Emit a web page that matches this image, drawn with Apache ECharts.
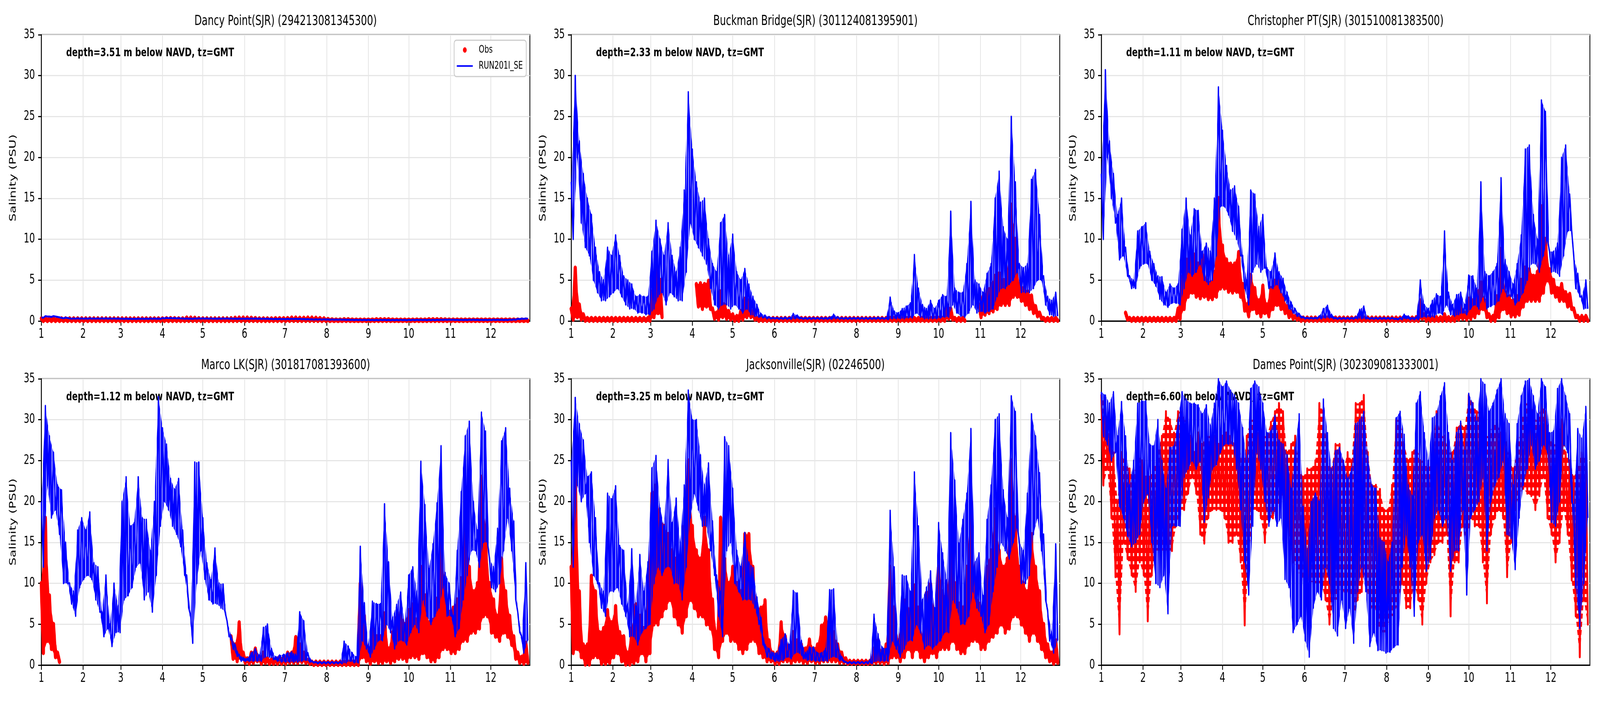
<!DOCTYPE html>
<html>
<head>
<meta charset="utf-8">
<title>SJR salinity: Obs vs RUN201l_SE</title>
<script src="https://cdn.jsdelivr.net/npm/echarts@6/dist/echarts.min.js"></script>
<style>
  html, body { margin: 0; padding: 0; background: #ffffff; overflow: hidden; }
  #wrap { position: relative; overflow: hidden; background: #ffffff; }
  #chart { position: absolute; left: 0; top: 0; width: 6000px; height: 1800px; transform-origin: 0 0; }
</style>
</head>
<body>
<div id="wrap"><div id="chart"></div></div>
<script>
// ── Sample days (day of year, Jan 1 = 0); model/obs read as high/low per 3-day window ──
var DAYS = [0,3,6,9,12,15,18,21,24,27,30,33,36,39,42,45,48,51,54,57,
  60,63,66,69,72,75,78,81,84,87,90,93,96,99,102,105,108,111,114,117,
  120,123,126,129,132,135,138,141,144,147,150,153,156,159,162,165,168,171,174,177,
  180,183,186,189,192,195,198,201,204,207,210,213,216,219,222,225,228,231,234,237,
  240,243,246,249,252,255,258,261,264,267,270,273,276,279,282,285,288,291,294,297,
  300,303,306,309,312,315,318,321,324,327,330,333,336,339,342,345,348,351,354,357,
  360];

var MONTH_STARTS = [0,31,59,90,120,151,181,212,243,273,304,334];
var MONTH_LABELS = ['1','2','3','4','5','6','7','8','9','10','11','12'];

var TITLES = [
  'Dancy Point(SJR) (294213081345300)',
  'Buckman Bridge(SJR) (301124081395901)',
  'Christopher PT(SJR) (301510081383500)',
  'Marco LK(SJR) (301817081393600)',
  'Jacksonville(SJR) (02246500)',
  'Dames Point(SJR) (302309081333001)'
];
var NOTES = [
  'depth=3.51 m below NAVD, tz=GMT',
  'depth=2.33 m below NAVD, tz=GMT',
  'depth=1.11 m below NAVD, tz=GMT',
  'depth=1.12 m below NAVD, tz=GMT',
  'depth=3.25 m below NAVD, tz=GMT',
  'depth=6.60 m below NAVD, tz=GMT'
];

// ── Dancy Point ──
var DANCY_MOD_HI = [0.45,0.6,0.55,0.6,0.5,0.38,0.42,0.32,0.32,0.33,
  0.32,0.32,0.33,0.32,0.32,0.33,0.33,0.32,0.32,0.31,
  0.3,0.3,0.29,0.29,0.3,0.3,0.3,0.31,0.31,0.3,
  0.36,0.38,0.37,0.36,0.35,0.32,0.31,0.3,0.32,0.33,
  0.33,0.32,0.32,0.31,0.31,0.32,0.32,0.31,0.3,0.3,
  0.3,0.3,0.31,0.31,0.3,0.3,0.29,0.27,0.27,0.27,
  0.26,0.27,0.28,0.28,0.27,0.25,0.24,0.22,0.22,0.21,
  0.22,0.2,0.2,0.19,0.19,0.18,0.17,0.16,0.16,0.15,
  0.15,0.15,0.14,0.14,0.15,0.15,0.14,0.14,0.14,0.15,
  0.14,0.15,0.15,0.16,0.16,0.15,0.15,0.15,0.16,0.17,
  0.18,0.18,0.17,0.16,0.16,0.16,0.17,0.17,0.16,0.16,
  0.16,0.16,0.17,0.17,0.16,0.16,0.18,0.2,0.27,0.3,
  0.31];
var DANCY_MOD_LO = [0.4,0.55,0.5,0.55,0.45,0.33,0.37,0.28,0.28,0.29,
  0.28,0.28,0.29,0.28,0.28,0.29,0.29,0.28,0.28,0.27,
  0.26,0.26,0.25,0.25,0.26,0.26,0.26,0.27,0.27,0.26,
  0.32,0.34,0.33,0.32,0.31,0.28,0.27,0.26,0.28,0.29,
  0.29,0.28,0.28,0.27,0.27,0.28,0.28,0.27,0.26,0.26,
  0.26,0.26,0.27,0.27,0.26,0.26,0.25,0.23,0.23,0.23,
  0.22,0.23,0.24,0.24,0.23,0.21,0.2,0.18,0.18,0.17,
  0.18,0.16,0.16,0.15,0.15,0.14,0.13,0.12,0.12,0.11,
  0.11,0.11,0.1,0.1,0.11,0.11,0.1,0.1,0.1,0.11,
  0.1,0.11,0.11,0.12,0.12,0.11,0.11,0.11,0.12,0.13,
  0.14,0.14,0.13,0.12,0.12,0.12,0.13,0.13,0.12,0.12,
  0.12,0.12,0.13,0.13,0.12,0.12,0.14,0.16,0.23,0.26,
  0.27];
var DANCY_OBS_HI = [0.3,0.3,0.3,0.3,0.3,0.3,0.3,0.3,0.3,0.3,
  0.3,0.3,0.3,0.3,0.3,0.3,0.3,0.3,0.3,0.3,
  0.3,0.3,0.3,0.3,0.3,0.3,0.3,0.3,0.3,0.3,
  0.3,0.32,0.34,0.32,0.3,0.3,0.4,0.4,0.38,0.32,
  0.3,0.3,0.3,0.3,0.3,0.3,0.3,0.32,0.38,0.4,
  0.4,0.4,0.38,0.35,0.3,0.3,0.3,0.3,0.32,0.32,
  0.32,0.35,0.4,0.4,0.38,0.38,0.4,0.4,0.38,0.34,
  0.3,0.22,0.18,0.16,0.16,0.2,0.2,0.16,0.15,0.15,
  0.15,0.15,0.16,0.2,0.2,0.2,0.2,0.16,0.15,0.15,
  0.15,0.15,0.15,0.16,0.16,0.16,0.2,0.2,0.2,0.2,
  0.18,0.16,0.16,0.16,0.16,0.16,0.16,0.16,0.16,0.16,
  0.16,0.16,0.16,0.16,0.16,0.16,0.16,0.16,0.16,0.16,
  0.16];
var DANCY_OBS_LO = [0.03,0.03,0.03,0.03,0.03,0.03,0.03,0.03,0.03,0.03,
  0.03,0.03,0.03,0.03,0.03,0.03,0.03,0.03,0.03,0.03,
  0.03,0.03,0.03,0.03,0.03,0.03,0.03,0.03,0.03,0.03,
  0.03,0.03,0.03,0.03,0.03,0.03,0.03,0.03,0.03,0.03,
  0.03,0.03,0.03,0.03,0.03,0.03,0.03,0.03,0.03,0.03,
  0.03,0.03,0.03,0.03,0.03,0.03,0.03,0.03,0.03,0.03,
  0.03,0.03,0.03,0.03,0.03,0.03,0.03,0.03,0.03,0.03,
  0.03,0.03,0.03,0.03,0.03,0.03,0.03,0.03,0.03,0.03,
  0.03,0.03,0.03,0.03,0.03,0.03,0.03,0.03,0.03,0.03,
  0.03,0.03,0.03,0.03,0.03,0.03,0.03,0.03,0.03,0.03,
  0.03,0.03,0.03,0.03,0.03,0.03,0.03,0.03,0.03,0.03,
  0.03,0.03,0.03,0.03,0.03,0.03,0.03,0.03,0.03,0.03,
  0.03];

// ── Buckman Bridge ──
var BUCK_MOD_HI = [17,30,22,18,15,13,9,6,5,9,
  8,10.5,8,5.5,5,4.5,3,3.2,3,3,
  8.5,12.3,10,8,12,8,6,9,16,28,
  21,17,14.5,15,10,7,6,12,13,8,
  10.6,6,5,6.4,4.5,3,2,0.9,0.7,0.5,
  0.4,0.4,0.4,0.45,0.4,0.9,0.7,0.4,0.4,0.4,
  0.4,0.4,0.4,0.4,0.45,0.8,0.5,0.4,0.4,0.4,
  0.4,0.4,0.4,0.4,0.4,0.4,0.45,0.4,0.4,2.9,
  1.2,1,1.5,1.8,2.2,8.1,4,2,1.5,2.5,
  1.5,2.5,3.2,3,13.4,4,3.5,3.5,7,14.6,
  5,4.5,3.5,5.8,7,15,18.3,11.5,10,25,
  17,7,6.5,7,17.3,18.5,13,5.5,3,2.5,
  3.5];
var BUCK_MOD_LO = [10,20,12,9,8,5,3.5,2.5,2.5,3,
  3.5,4,3,2,1.5,1.5,1,1,0.8,0.8,
  1.5,3,3.5,2,3.5,3,2.5,2.5,6,12,
  10,9,8,7,4,2,1.5,2,2,1.5,
  2,1.5,1,1.5,0.8,0.6,0.5,0.4,0.3,0.3,
  0.3,0.25,0.25,0.25,0.25,0.3,0.3,0.25,0.25,0.25,
  0.25,0.25,0.25,0.25,0.25,0.3,0.25,0.25,0.25,0.25,
  0.25,0.25,0.25,0.25,0.25,0.25,0.25,0.25,0.2,0.3,
  0.3,0.3,0.3,0.4,0.4,1,0.5,0.3,0.3,0.3,
  0.3,0.4,0.5,0.5,2,1,0.6,0.5,1,2,
  1,1.2,1,1.2,1.5,3,4,4,4.5,5,
  6,3.5,3.5,3.5,4,5,5,2,0.8,0.6,
  0.6];
var BUCK_OBS_HI = [1.5,6.5,2,0.8,0.35,0.35,0.35,0.35,0.35,0.35,
  0.35,0.35,0.35,0.35,0.35,0.35,0.35,0.35,0.35,0.35,
  3.6,9.2,5,null,null,null,null,null,null,null,
  null,4.5,4.6,4.5,4.9,1.5,1,3.6,2,1.2,
  0.8,0.6,1.2,2.7,2.5,1.2,0.35,0.35,0.35,0.35,
  0.35,0.35,0.35,0.35,0.35,0.35,0.35,0.35,0.35,0.35,
  0.35,0.35,0.35,0.35,0.35,0.35,0.35,0.35,0.35,0.35,
  0.35,0.35,0.35,0.35,0.35,0.35,0.35,0.35,0.35,0.35,
  0.35,0.35,0.35,0.35,0.35,0.35,0.35,0.35,0.35,0.35,
  0.35,0.35,0.35,2,1.5,0.35,0.35,0.35,null,null,
  null,2,3,3.8,4.5,5.5,5.8,5,6,14.2,
  10,4.5,4,3.6,3.1,1.8,1,0.35,0.35,0.35,
  0.35];
var BUCK_OBS_LO = [0.2,0.5,0.2,0.05,0.05,0.05,0.05,0.05,0.05,0.05,
  0.05,0.05,0.05,0.05,0.05,0.05,0.05,0.05,0.05,0.05,
  0.5,1,0.5,null,null,null,null,null,null,null,
  null,1.8,1.5,1.8,1.5,0.3,0.2,0.5,0.3,0.2,
  0.05,0.05,0.2,0.5,0.5,0.2,0.05,0.05,0.05,0.05,
  0.05,0.05,0.05,0.05,0.05,0.05,0.05,0.05,0.05,0.05,
  0.05,0.05,0.05,0.05,0.05,0.05,0.05,0.05,0.05,0.05,
  0.05,0.05,0.05,0.05,0.05,0.05,0.05,0.05,0.05,0.05,
  0.05,0.05,0.05,0.05,0.05,0.05,0.05,0.05,0.05,0.05,
  0.05,0.05,0.05,0.3,0.2,0.05,0.05,0.05,null,null,
  null,0.5,0.8,1,1.2,1.5,2,2,2,3,
  3,2.5,2,1.5,1,0.6,0.3,0.05,0.05,0.05,
  0.05];

// ── Christopher PT ──
var CHRIS_MOD_HI = [18,30.7,22,18,13,15,9,5.5,5,11,
  11.5,12,8.5,7,5.5,5.4,3.5,4.5,4,4.5,
  11.2,15,10.5,13.7,13.5,8.5,9.5,8.5,15,28.6,
  23.3,19,16,16.5,14,8,5,16,15.5,11.5,
  13,6.5,6,8.3,6,5.2,3.5,2.3,1.5,0.9,
  0.5,0.4,0.4,0.4,0.6,1.5,1.9,0.8,0.4,0.4,
  0.4,0.4,0.4,0.5,1.4,1.8,0.4,0.4,0.4,0.4,
  0.4,0.4,0.4,0.3,0.4,0.8,0.6,0.4,0.5,5,
  2,1.5,2.5,3.3,3,11,3.5,2,3.2,3.5,
  2,5.6,5.5,4,17,6,5.5,6,7,17.5,
  7.5,6,4.5,7,10.5,21,21.5,13,10,27,
  25.6,8.5,8.5,9.5,20,21.5,15.5,8,5.8,3,
  5];
var CHRIS_MOD_LO = [10,20,15,12,7.5,8,5.5,4,4,6.5,
  7,7,5,4.3,2.7,2,1.7,2.2,2.2,2,
  4,6,5.5,6,7,5,4.5,5,8,14,
  14,13,11,10,8,4,2,6,7,6,
  6.5,4,4,4.5,3.5,2.5,1.5,1,0.6,0.4,
  0.3,0.3,0.3,0.3,0.3,0.4,0.4,0.3,0.25,0.25,
  0.25,0.25,0.25,0.3,0.3,0.3,0.25,0.25,0.25,0.25,
  0.25,0.25,0.25,0.2,0.2,0.3,0.2,0.2,0.2,0.5,
  0.5,0.5,0.5,1,0.8,2,0.8,0.6,0.8,1,
  0.8,1.5,2,1.5,3,1.5,1.8,2,2.5,4,
  3,3,2,2.5,3.5,5,7,7,6,8,
  10,6,6,5.5,8,11,11,4,3,1.5,
  1.5];
var CHRIS_OBS_HI = [null,null,null,null,null,null,1,0.35,0.35,0.35,
  0.35,0.35,0.35,0.35,0.35,0.35,0.35,0.35,0.35,1.5,
  5.4,7.5,8,8.1,7,8.1,5,4.7,6,15,
  9.2,7.5,7,7,8.4,4.5,2,5.6,4,2.5,
  4.3,2,4,4.9,5,3,1.8,1.2,0.6,0.4,
  0.4,0.4,0.4,0.4,0.4,0.4,0.4,0.4,0.4,0.4,
  0.4,0.4,0.4,0.4,0.4,0.4,0.4,0.4,0.4,0.4,
  0.4,0.4,0.4,0.4,0.4,0.4,0.4,0.4,0.45,2.5,
  0.8,0.45,0.45,0.45,0.45,0.8,0.45,0.45,1.5,2.2,
  1,2.7,2.5,3.5,4.7,2.5,0.8,0.6,3,8.8,
  3.5,3,2.5,3,5,6.5,6.3,5.5,6,14,
  10,6.3,5,4,4.5,3.5,3.3,1.5,0.6,0.6,
  0.6];
var CHRIS_OBS_LO = [null,null,null,null,null,null,0.2,0.05,0.05,0.05,
  0.05,0.05,0.05,0.05,0.05,0.05,0.05,0.05,0.05,0.3,
  1.5,3,3.5,3,2.8,3,2.7,2.7,3,4,
  4,3.6,3.5,3.6,3,1.3,0.6,1.5,1,0.6,
  1,0.6,1.5,2,1.5,1,0.5,0.3,0.2,0.05,
  0.05,0.05,0.05,0.05,0.05,0.05,0.05,0.05,0.05,0.05,
  0.05,0.05,0.05,0.05,0.05,0.05,0.05,0.05,0.05,0.05,
  0.05,0.05,0.05,0.05,0.05,0.05,0.05,0.05,0.05,0.3,
  0.05,0.05,0.05,0.05,0.05,0.05,0.05,0.05,0.2,0.3,
  0.2,0.3,0.5,1,1.5,0.5,0.05,0.05,0.5,1.5,
  1,0.6,0.6,0.8,1.8,2.5,2.5,2.5,2.5,3.5,
  5,3.5,3,2.5,2.5,1.8,1.5,0.5,0.05,0.05,
  0.05];

// ── Marco LK ──
var MARCO_MOD_HI = [20,31.7,28,26,22,21.4,15,10,9,16.5,
  18,16.5,18.7,12.5,12,6.5,11,5,10,7.2,
  20,23,17,17.4,23,18,17.8,14,20,32.8,
  29,27,22.8,21.5,22.8,16.5,11,6,24.8,24.8,
  18,12.5,10.4,14.3,10,9.9,5.4,3.6,2.5,1.3,
  0.9,0.8,1.5,2,1.2,4.6,5,2,1,1.2,
  1.3,1.5,1.6,1.3,6.5,5.4,1.5,0.5,0.4,0.4,
  0.4,0.4,0.4,0.4,0.4,2.9,2.3,1.5,1,14.5,
  7.6,2.5,7.8,7.5,7.5,19.7,12.6,5.8,7.4,8.9,
  5,11,12,9,24.9,19.6,11.8,14.8,19.8,26.8,
  11.3,10,6,14,21.2,28,29.8,20,16.5,30.9,
  28.6,13,12,16.7,27.4,29,21.6,17.6,6.5,3.5,
  12.5];
var MARCO_MOD_LO = [12,22,18,19,16,10,10,7.5,6,9.5,
  10.5,11,10.5,8,6.5,3.5,4.5,2.3,4,4,
  8,8.5,9.5,12,12.5,8,9,6.5,11,17,
  20,19,17,16,14.5,11,7,2.7,10,14,
  10.5,8,7.5,7.5,7,6.5,3.5,2,1.1,0.5,
  0.5,0.5,0.5,0.5,0.5,1,1,0.7,0.5,0.4,
  0.4,0.4,0.4,0.4,0.5,0.6,0.4,0.3,0.2,0.2,
  0.2,0.2,0.2,0.2,0.2,0.3,0.5,0.3,0.3,3,
  2,1,2,3,3,5,4,2,3,3,
  2.5,4,5,4,8,6,5,6,7,9.5,
  6,6,3.5,4.5,8,11,14,14,12,15,
  15,9.5,9,10,14,18,14,8,4,1.5,
  3];
var MARCO_OBS_HI = [10,18,8.5,5,1.5,null,null,null,null,null,
  null,null,null,null,null,null,null,null,null,null,
  null,null,null,null,null,null,null,null,null,null,
  null,null,null,null,null,null,null,null,null,null,
  null,null,null,null,null,null,null,3.5,2.5,5.2,
  1.5,0.8,1.5,2,1,1.5,0.8,0.7,0.8,1,
  1,1.5,1.5,3.4,2.5,1.5,0.6,0.4,0.4,0.4,
  0.4,0.4,0.4,0.4,0.4,0.4,0.4,0.4,0.5,10,
  6,1.5,4.5,3.5,3.5,6.3,2,4,5.8,6.5,
  5,6.7,7.4,5.5,12,8.5,5.2,5.5,8.1,17,
  9,6.5,7,8,10.6,17,12,9,10,23,
  17,10,8,6,13,9,6,3.5,1.5,1,
  2.7];
var MARCO_OBS_LO = [1.5,3,2,1,0.4,null,null,null,null,null,
  null,null,null,null,null,null,null,null,null,null,
  null,null,null,null,null,null,null,null,null,null,
  null,null,null,null,null,null,null,null,null,null,
  null,null,null,null,null,null,null,0.8,0.5,0.8,
  0.3,0.2,0.3,0.5,0.2,0.3,0.2,0.2,0.2,0.2,
  0.2,0.3,0.3,0.3,0.4,0.3,0.2,0.05,0.05,0.05,
  0.05,0.05,0.05,0.05,0.05,0.05,0.05,0.05,0.05,1,
  0.5,0.2,0.5,0.3,0.3,0.5,0.3,0.5,0.8,0.8,
  0.5,1,1,0.8,1.5,1,0.5,0.5,1,2,
  2,1.5,1.5,2,3,3,4,4,4.5,6,
  6,4,3.5,3,4,3.5,2.5,0.8,0.3,0.2,
  0.3];

// ── Jacksonville ──
var JAX_MOD_HI = [25,32.7,29.5,27.5,23,23.6,18,10,9,21,
  20.3,21.9,14.6,14,7.5,14.2,7.2,13.5,9,12.6,
  24.1,25.6,19.2,17,25.1,17.4,20.4,15,22,33.6,
  30,30,25.7,22,24.7,17.6,11,9,27.9,26.8,
  21.6,14,12,16.2,12.6,11.9,8.3,5.8,2.5,2,
  1.5,1.5,3.1,3.8,2.5,9.1,8.8,3,1.5,2.2,
  2.2,1.5,1.5,2,9.2,9.3,2.5,1,0.4,0.4,
  0.4,0.4,0.4,0.4,0.6,6.2,3.8,2.2,2,18.9,
  12,3,11,10.9,9,23.6,17,8,9.5,11.5,
  7,17.4,13.7,10.4,28.4,22.6,14.9,17.8,21,28.9,
  12.6,13.7,8.5,17.8,22,30,30.7,21.4,18,32.9,
  31,15,14,21,30.7,28,23.5,16,6.7,4,
  14.8];
var JAX_MOD_LO = [12,22,20,21,15,11,10,7,6,9,
  9,9.5,7.5,6,3.5,3.5,2.5,4,4.5,5,
  10,12,11,12,12,10,10,8,12,18,
  21,19,17,17,14,11,6,3.5,14,15,
  10,9,8,8,8,7,5,2.5,1,0.8,
  0.5,0.5,0.6,1,0.8,1.5,1.5,0.8,0.6,0.6,
  0.5,0.5,0.5,0.5,1,1,0.6,0.4,0.2,0.2,
  0.2,0.2,0.2,0.2,0.2,0.5,0.5,0.5,0.5,3,
  2,1,2,3,3,5,4,2,2.5,2,
  2.5,3,4,4,8,7,5,5,6,9,
  7,6,4,5,9,12,15,14,13,15,
  17,10,10,11,16,18,14,8,3,1.5,
  3];
var JAX_OBS_HI = [12,25,9,2.5,2.5,10.9,9,4,4.5,6.7,
  5.2,7.2,4,3.5,1.5,4.5,7.4,6,4.5,9.2,
  21,22,18,17,16,14,13,12,17,25,
  17,14,13,18,14,8,4,18,13,10,
  12,10,9,16,16,12,7,7,7.9,3,
  1.5,1.5,5.2,3.5,2,4,3,2.5,2,3.1,
  2,2.5,4.8,5.8,5,4,2.5,1.5,0.8,0.5,
  0.5,0.5,0.5,0.5,0.5,2,3,1.5,2.5,12,
  7,3,6,8,6.5,9.7,7,3.5,8.8,9.9,
  6,12,9,8,15,10,7.5,7,12,20,
  10,7.5,6.5,12,14,19,14,12,13,25,
  18,12,10,9,16,12,9,5,2.5,1.5,
  3];
var JAX_OBS_LO = [1.5,2,1,0.1,0.1,1,1,0.2,0.2,0.3,
  1,1.5,0.5,0.1,0.1,0.3,0.5,1.5,0.5,1.5,
  5,5,6,7,8,6,5,4,6,8,
  7,6,6,5,4.5,2,1,3,4,3,
  3,2,1.5,2,3,3,1.5,1,0.5,0.5,
  0.2,0.2,0.5,0.5,0.3,0.5,0.5,0.3,0.3,0.5,
  0.3,0.3,0.5,0.5,0.5,0.5,0.3,0.3,0.2,0.2,
  0.2,0.2,0.2,0.2,0.2,0.3,0.3,0.2,0.3,1,
  1,0.5,1,2,1,2,1,0.5,1,1.5,
  1,2,2,2,3,2,1.5,1.5,2.5,3,
  3,2,2,3,3.5,4,5,4,4.5,6,
  6,5,4,3,4,3,2,1,0.5,0.2,
  0.3];

// ── Dames Point ──
var DAMES_MOD_HI = [33.4,33,32,33.4,28,32.2,28,22,25,32,
  32.3,32.3,27,26.8,30,25,21.6,26.6,26.8,30,
  33.4,32.5,32,32,31.8,30.7,31.8,29.3,32,35,
  34,34.7,33.6,33,32,29,25,33.8,34.7,34,
  32,28.4,28.6,30.5,27.5,27,25.7,21.6,26.6,30.7,
  19.4,14,20,21,20,32.5,28.4,23.9,26.2,26.6,
  25,22.8,24,29.5,30,31,25.5,22,21.6,15.5,
  15,12.6,15,30.2,31,28.2,22,20.7,32,33.4,
  28.4,25,30.2,30.7,32.9,34.5,28.4,25,28.4,29.8,
  26.2,33.2,32,29.8,35,34.3,31,32,33.6,35,
  30.7,29.5,22,29.5,32.9,34.7,35,32.9,30.7,35,
  34,28.4,28.6,33.8,35,32.9,30.7,19.4,28.9,27.7,
  31.6];
var DAMES_MOD_LO = [28,27,25,26,19.4,18,15.8,14.5,15,16,
  20,21,15,10,9.5,11,6.3,17,17,17,
  23,24,25,24,25,17.5,20.5,24,24.5,26,
  27,27,27,24,19,12.6,8.6,17,26,24,
  20,17,19,17,18,10.5,9.5,4,5,6,
  3,1,7,9,8,12,10,4.5,3.6,8,
  4.5,7,2.7,9,12,9,2.3,4,1.8,1.8,
  1.5,1.6,2.2,2.5,12,16,12,6,15,16,
  11.5,13,18,19,17,18,11.5,14,14,19,
  8.6,18,19,20,23,14,20,22,23,25,
  16,15.5,11.7,18,22,24,27,24,25,27,
  26,17.5,17,20,27,26,20,9.5,4.5,10,
  18];
var DAMES_OBS_HI = [33,32,28,26,20,26,24.5,24,23,26,
  25,23,23,24,26,28,31,30,28.4,31,
  31,29.5,28,26,28.4,27,28,28,28,27,
  28,28.4,28,27,29.7,23,28,30,30,28.4,
  28,28,29.7,31,32,31,26,27,28,24,
  23,24,24,25,32,31,25,24,27,27,
  24,26,25,32,32,33,26,22,22,21.5,
  19,19,22,30,30,27,25,26,27,25,
  25,24,25,31,28,28,26,26,29,29.5,
  29,33,32,31,31,28,28,29.5,29.5,28.4,
  28.4,25,24,26,29.5,32,32,31,29.5,32,
  31,28,27,27,30,26,25,23,24,26,
  25];
var DAMES_OBS_LO = [22,24,18,10.8,3.8,15,13,11,9,12.6,
  11,5.4,11,14,14,14,14,14,17,19,
  19,21,23,21,16,14.9,18,19,19,19,
  18,15,15,16,12.6,4.9,12.6,19,19,18,
  15,18,18,19,20.7,20,16,12.6,12,10.4,
  10.4,10.4,10,10,10,8,5,8,8,10,
  8,10,6,8,9,12,6,8,5,4,
  4,6,6,8,10,7,7,10,8,5,
  10,12.6,13.5,15,15,16,6,12.6,12.6,17,
  15,18,17,17,12.6,7.6,16,18,19,18,
  10.8,15,19,21,21.6,21,20.7,19,20.7,23,
  18,16,12.6,15,19,16,10.4,6,1,8,
  5];

// ── Layout (pixels of the 6000×1800 figure) ─────────────────────────────────
var COL_X = [155, 2142, 4130];
var ROW_Y = [89, 970];
var PW = 1832, PH = 733;
var FONT = 'DejaVu Sans';
var HALF = 1.5;   // low reading sits half a window after the high one

var PANELS = [
  { modHi: DANCY_MOD_HI, modLo: DANCY_MOD_LO, obsHi: DANCY_OBS_HI, obsLo: DANCY_OBS_LO, obsRows: false },
  { modHi: BUCK_MOD_HI,  modLo: BUCK_MOD_LO,  obsHi: BUCK_OBS_HI,  obsLo: BUCK_OBS_LO,  obsRows: false },
  { modHi: CHRIS_MOD_HI, modLo: CHRIS_MOD_LO, obsHi: CHRIS_OBS_HI, obsLo: CHRIS_OBS_LO, obsRows: false },
  { modHi: MARCO_MOD_HI, modLo: MARCO_MOD_LO, obsHi: MARCO_OBS_HI, obsLo: MARCO_OBS_LO, obsRows: false },
  { modHi: JAX_MOD_HI,   modLo: JAX_MOD_LO,   obsHi: JAX_OBS_HI,   obsLo: JAX_OBS_LO,   obsRows: false },
  { modHi: DAMES_MOD_HI, modLo: DAMES_MOD_LO, obsHi: DAMES_OBS_HI, obsLo: DAMES_OBS_LO, obsRows: true }
];

// ── Fill patterns ────────────────────────────────────────────────────────────
// narrow vertical blue strokes: the look of the dense tidal model band
function modelPattern() {
  var c = document.createElement('canvas');
  c.width = 7; c.height = 4;
  var g = c.getContext('2d');
  g.fillStyle = '#0000ff';
  g.fillRect(0, 0, 5, 4);
  return { image: c, repeat: 'repeat' };
}
// rows of red dots, one row per whole PSU (about 21 px apart on the bottom row)
function rowPattern() {
  var c = document.createElement('canvas');
  c.width = 4; c.height = 21;
  var g = c.getContext('2d');
  g.fillStyle = '#ff0000';
  g.fillRect(0, 17, 4, 4);
  g.fillRect(0, 0, 4, 9);
  return { image: c, repeat: 'repeat' };
}
var MODEL_FILL = modelPattern();
var ROW_FILL = rowPattern();

function val(v) { return v == null ? '-' : v; }

function zigzag(hi, lo) {
  var out = [];
  for (var i = 0; i < DAYS.length; i++) {
    out.push([DAYS[i], val(hi[i])]);
    out.push([DAYS[i] + HALF, val(lo[i])]);
  }
  return out;
}

// one item per pair of neighbouring windows: [d0, hi0, lo0, d1, hi1, lo1]
function bandItems(hi, lo) {
  var out = [];
  for (var i = 0; i < DAYS.length - 1; i++) {
    out.push([DAYS[i], val(hi[i]), val(lo[i]), DAYS[i + 1], val(hi[i + 1]), val(lo[i + 1])]);
  }
  return out;
}

function bandRenderer(fill) {
  return function(params, api) {
    var v = [0, 1, 2, 3, 4, 5].map(function(j) { return api.value(j); });
    for (var j = 0; j < 6; j++) { if (isNaN(v[j])) return; }
    var a = api.coord([v[0], v[1]]);
    var b = api.coord([v[3], v[4]]);
    var c = api.coord([v[3] + HALF, v[5]]);
    var d = api.coord([v[0] + HALF, v[2]]);
    return { type: 'polygon', shape: { points: [a, b, c, d] }, style: { fill: fill } };
  };
}

var grids = [], xAxes = [], yAxes = [], series = [], texts = [];

PANELS.forEach(function(p, k) {
  var gx = COL_X[k % 3], gy = ROW_Y[Math.floor(k / 3)];
  grids.push({
    left: gx, top: gy, width: PW, height: PH,
    show: true, borderColor: '#000', borderWidth: 3, backgroundColor: 'transparent',
    containLabel: false, outerBoundsMode: 'none'
  });
  xAxes.push({
    type: 'value', gridIndex: k, min: 0, max: 363,
    axisLine: { show: true, onZero: false, lineStyle: { color: '#000', width: 3 } },
    axisTick: { show: true, inside: false, length: 12, customValues: MONTH_STARTS,
      lineStyle: { color: '#000', width: 3 } },
    axisLabel: { show: true, customValues: MONTH_STARTS, margin: 18, color: '#000',
      fontFamily: FONT, fontSize: 33,
      formatter: function(v) { return MONTH_LABELS[MONTH_STARTS.indexOf(v)]; } },
    splitLine: { show: true, lineStyle: { color: '#e6e6e6', width: 3 } }
  });
  yAxes.push({
    type: 'value', gridIndex: k, min: 0, max: 35, interval: 5,
    name: 'Salinity (PSU)', nameLocation: 'middle', nameGap: 88,
    nameTextStyle: { color: '#000', fontFamily: FONT, fontSize: 33 },
    axisLine: { show: true, onZero: false, lineStyle: { color: '#000', width: 3 } },
    axisTick: { show: true, inside: false, length: 12, lineStyle: { color: '#000', width: 3 } },
    axisLabel: { show: true, margin: 24, color: '#000', fontFamily: FONT, fontSize: 33,
      showMinLabel: true, showMaxLabel: true },
    splitLine: { show: true, lineStyle: { color: '#e6e6e6', width: 3 } }
  });
  // observations: filled range between the readings, then the readings themselves
  series.push({
    type: 'custom', name: 'Obs', xAxisIndex: k, yAxisIndex: k,
    data: bandItems(p.obsHi, p.obsLo), renderItem: bandRenderer(p.obsRows ? ROW_FILL : '#ff0000'),
    encode: { x: [0, 3], y: [1, 2, 4, 5] },
    itemStyle: { color: '#ff0000' }, z: 1, silent: true, clip: true
  });
  series.push({
    type: 'line', name: 'Obs', xAxisIndex: k, yAxisIndex: k,
    data: zigzag(p.obsHi, p.obsLo), symbol: 'none', showSymbol: false, connectNulls: false,
    lineStyle: { color: '#ff0000', width: p.obsRows ? 7 : 12, cap: 'round', join: 'round' },
    itemStyle: { color: '#ff0000' }, z: 2, silent: true, clip: true
  });
  // model: striped band between its highs and lows, then the line
  series.push({
    type: 'custom', name: 'RUN201l_SE', xAxisIndex: k, yAxisIndex: k,
    data: bandItems(p.modHi, p.modLo), renderItem: bandRenderer(MODEL_FILL),
    encode: { x: [0, 3], y: [1, 2, 4, 5] },
    itemStyle: { color: '#0000ff' }, z: 3, silent: true, clip: true
  });
  series.push({
    type: 'line', name: 'RUN201l_SE', xAxisIndex: k, yAxisIndex: k,
    data: zigzag(p.modHi, p.modLo), symbol: 'none', showSymbol: false,
    lineStyle: { color: '#0000ff', width: 5, join: 'round' },
    itemStyle: { color: '#0000ff' }, z: 4, silent: true, clip: true
  });
  texts.push({
    type: 'text', x: gx + PW / 2, y: gy - 34, silent: true,
    style: { text: TITLES[k], fill: '#000', font: '36px "' + FONT + '"',
      textAlign: 'center', textVerticalAlign: 'middle', align: 'center', verticalAlign: 'middle' }
  });
  texts.push({
    type: 'text', x: gx + 93, y: gy + 47, silent: true,
    style: { text: NOTES[k], fill: '#000', font: 'bold 31px "' + FONT + '"',
      textAlign: 'left', textVerticalAlign: 'middle', align: 'left', verticalAlign: 'middle' }
  });
});

// the figure is laid out in 6000×1800 units; stretch it over the whole window
var wrap = document.getElementById('wrap');
var el = document.getElementById('chart');
var SX = (window.innerWidth || 6000) / 6000;
var SY = (window.innerHeight || 1800) / 1800;
wrap.style.width = (window.innerWidth || 6000) + 'px';
wrap.style.height = (window.innerHeight || 1800) + 'px';
el.style.transform = 'scale(' + SX + ',' + SY + ')';

var chart = echarts.init(el, null, { renderer: 'canvas', devicePixelRatio: 1 });
chart.setOption({
  backgroundColor: '#ffffff',
  animation: false,
  textStyle: { fontFamily: FONT },
  grid: grids,
  xAxis: xAxes,
  yAxis: yAxes,
  legend: {
    show: true, orient: 'vertical', left: 1703, top: 103, z: 10,
    padding: [10, 13, 12, 10], itemWidth: 60, itemHeight: 14, itemGap: 11,
    backgroundColor: '#ffffff', borderColor: '#cccccc', borderWidth: 3, borderRadius: 8,
    selectedMode: false,
    data: [
      { name: 'Obs', icon: 'circle', itemStyle: { color: '#ff0000' } },
      { name: 'RUN201l_SE', icon: 'path://M0,0M0,5L60,5L60,9L0,9ZM60,14',
        itemStyle: { color: '#0000ff' } }
    ],
    formatter: function(n) { return '  ' + n; },
    textStyle: { color: '#000', fontFamily: FONT, fontSize: 27, lineHeight: 30 }
  },
  series: series,
  graphic: { elements: texts }
});
</script>
</body>
</html>
